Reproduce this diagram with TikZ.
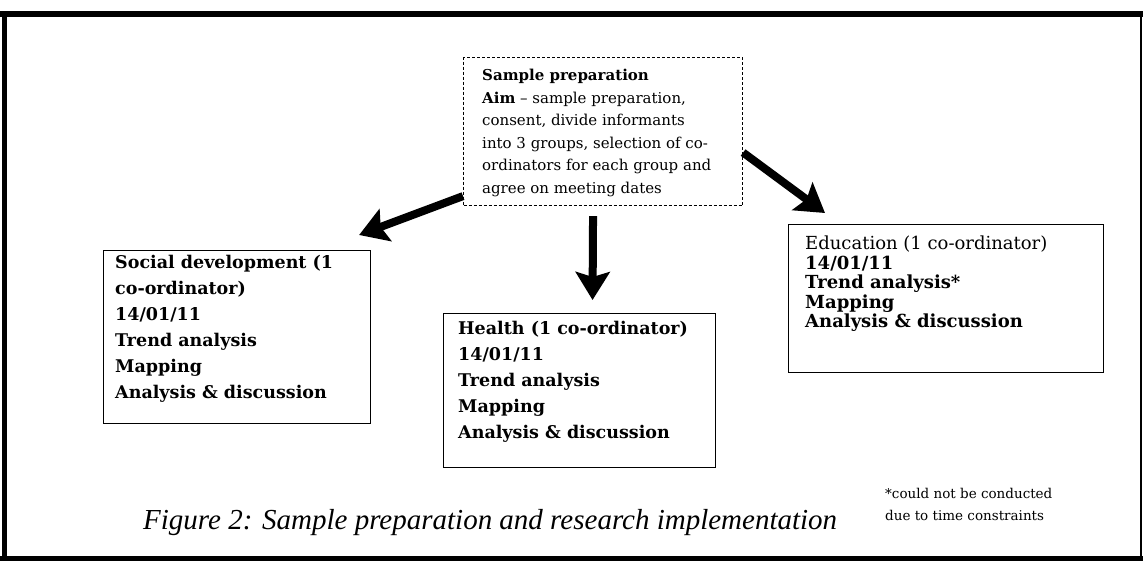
\documentclass[tikz,border=0pt]{standalone}
\usepackage{fontspec}
\setmainfont{DejaVu Serif}
\newfontfamily\capfont{Liberation Serif}
\usetikzlibrary{arrows.meta}

\tikzset{
  box/.style={draw=black, line width=1.1pt, inner sep=0pt},
  topbox/.style={draw=black, line width=1.1pt, densely dashed, inner sep=0pt},
  boxtext/.style={anchor=north west, inner sep=0pt, align=left},
  bigarrow/.style={line width=8pt, -{Stealth[length=28pt,width=34pt,inset=5pt]}},
  frameline/.style={line width=#1, line cap=butt},
}

\begin{document}
\begin{tikzpicture}[x=1pt,y=-1pt]
\useasboundingbox (0,0) rectangle (1143,563);

% outer frame
\draw[frameline=6pt] (0,14) -- (1143,14);
\draw[frameline=5pt] (4,11) -- (4,560);
\draw[frameline=5pt] (0,558) -- (1143,558);
\draw[frameline=2pt] (1141,14) -- (1141,558);

% boxes
\node[topbox, minimum width=279pt, minimum height=148pt, anchor=north west] (prep) at (463,57) {};
\node[box, minimum width=267pt, minimum height=173pt, anchor=north west] (social) at (103,250) {};
\node[box, minimum width=272pt, minimum height=154pt, anchor=north west] (health) at (443,313) {};
\node[box, minimum width=315pt, minimum height=148pt, anchor=north west] (educ) at (788,224) {};

% box texts
\node[boxtext, font={\fontsize{15}{22.5}\selectfont}] (preptext) at (482,64.7)
  {\strut\textbf{Sample preparation}\\
   \textbf{Aim} -- sample preparation,\\
   consent, divide informants\\
   into 3 groups, selection of co-\\
   ordinators for each group and\\
   agree on meeting dates};

\node[boxtext, font={\fontsize{17.5}{26}\selectfont\bfseries}] (socialtext) at (115,250)
  {\strut Social development (1\\
   co-ordinator)\\
   14/01/11\\
   Trend analysis\\
   Mapping\\
   Analysis \& discussion};

\node[boxtext, font={\fontsize{17.5}{26}\selectfont\bfseries}] (healthtext) at (458,316)
  {\strut Health (1 co-ordinator)\\
   14/01/11\\
   Trend analysis\\
   Mapping\\
   Analysis \& discussion};

\node[boxtext, font={\fontsize{18}{19.5}\selectfont}] (eductext) at (805,236)
  {\strut Education (1 co-ordinator)\\
   \textbf{14/01/11}\\
   \textbf{Trend analysis*}\\
   \textbf{Mapping}\\
   \textbf{Analysis \& discussion}};

% caption and footnote
\node[anchor=base west, inner sep=0pt, font={\capfont\itshape\fontsize{29}{32}\selectfont}] (caption) at (143,529)
  {Figure 2: Sample preparation and research implementation};
\node[boxtext, font={\fontsize{13.5}{22}\selectfont}] (note) at (885,482.6)
  {\strut *could not be conducted\\
   due to time constraints};

% arrows
\draw[bigarrow] ([yshift=10pt]prep.south west) -- ([xshift=-12pt,yshift=15pt]social.north east);
\draw[bigarrow] ([xshift=-10pt,yshift=-10pt]prep.south) -- ([xshift=13pt,yshift=13pt]health.north);
\draw[bigarrow] ([yshift=-21pt]prep.east) -- ([xshift=37pt,yshift=11pt]educ.north west);
\end{tikzpicture}
\end{document}
